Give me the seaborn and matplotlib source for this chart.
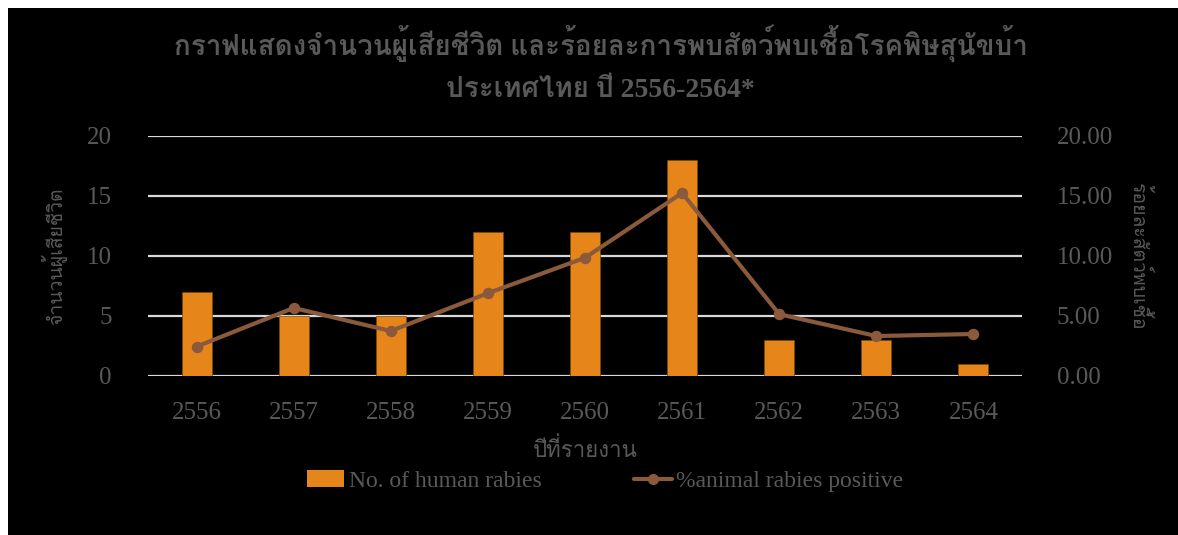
import numpy as np
import pandas as pd
import matplotlib
matplotlib.use("Agg")
import matplotlib.pyplot as plt
import seaborn as sns
from matplotlib import font_manager
from matplotlib.ft2font import FT2Font
from matplotlib.patches import Patch, Rectangle
from matplotlib.lines import Line2D

# ---- data ----
years = ["2556", "2557", "2558", "2559", "2560", "2561", "2562", "2563", "2564"]
human_rabies = [7, 5, 5, 12, 12, 18, 3, 3, 1]
animal_pct = [2.45, 5.67, 3.75, 6.9, 9.85, 15.25, 5.15, 3.33, 3.5]
left_ticks = [0, 5, 10, 15, 20]
right_ticks = [0, 5, 10, 15, 20]

title = "กราฟแสดงจำนวนผู้เสียชีวิต และร้อยละการพบสัตว์พบเชื้อโรคพิษสุนัขบ้า\nประเทศไทย ปี 2556-2564*"
xlabel = "ปีที่รายงาน"
ylabel_left = "จำนวนผู้เสียชีวิต"
ylabel_right = "ร้อยละสัตว์พบเชื้อ"
legend_bar = "No. of human rabies"
legend_line = "%animal rabies positive"

# ---- find a font with Thai glyphs ----
thai_family = None
for f in font_manager.fontManager.ttflist:
    try:
        cm = FT2Font(f.fname).get_charmap()
        if 0x0E01 in cm and 0x0E35 in cm:
            thai_family = f.name
            break
    except Exception:
        pass

sns.set_theme(style="white")
families = ["Liberation Serif"]
if thai_family:
    families.append(thai_family)
families.append("DejaVu Sans")
plt.rcParams["font.family"] = families

text_color = "#595959"
bar_color = "#E6861A"
line_color = "#8B5A3C"
grid_color = "#D9D9D9"

fig = plt.figure(figsize=(11.78, 5.35), dpi=100)
fig.patch.set_facecolor("white")
# black chart area
fig.patches.append(Rectangle((8 / 1178, 0), 1 - 8 / 1178, 1 - 8 / 535,
                             transform=fig.transFigure, facecolor="black",
                             edgecolor="none", zorder=-10))

ax = fig.add_axes([148 / 1178, 1 - 376 / 535, (1022 - 148) / 1178, (376 - 136) / 535])
ax.set_facecolor("black")
ax.patch.set_alpha(0)

df = pd.DataFrame({"year": years, "human": human_rabies, "pct": animal_pct})

sns.barplot(data=df, x="year", y="human", ax=ax, color=bar_color, width=0.31,
            saturation=1, edgecolor="#7A4A10", linewidth=0.5, zorder=3)
ax.set_ylim(0, 20)
ax.set_xlim(-0.5, len(years) - 0.5)
ax.set_yticks(left_ticks)
ax.set_yticklabels([str(t) for t in left_ticks])
ax.grid(axis="y", color=grid_color, linewidth=1.6, zorder=0)
ax.set_axisbelow(True)
for s in ax.spines.values():
    s.set_visible(False)
ax.tick_params(axis="both", length=0, labelsize=18, colors=text_color)
ax.tick_params(axis="x", pad=19)
ax.tick_params(axis="y", pad=26)
ax.set_xlabel(xlabel, color=text_color, fontsize=16, labelpad=10)
ax.set_ylabel(ylabel_left, color=text_color, fontsize=14, labelpad=14)

ax2 = ax.twinx()
sns.pointplot(data=df, x="year", y="pct", ax=ax2, color=line_color,
              markers="o", linestyles="-", markersize=6, linewidth=3)
ax2.set_ylim(0, 20)
ax2.set_xlim(-0.5, len(years) - 0.5)
ax2.set_yticks(right_ticks)
ax2.set_yticklabels([f"{t:.2f}" for t in right_ticks])
for s in ax2.spines.values():
    s.set_visible(False)
ax2.tick_params(axis="y", length=0, labelsize=18, colors=text_color, pad=25)
ax2.set_ylabel(ylabel_right, color=text_color, fontsize=14, rotation=270, labelpad=26)
ax2.grid(False)

fig.text(0.51, 1 - 64 / 535, title, ha="center", va="center", fontsize=20,
         fontweight="bold", color=text_color, linespacing=1.85)

handles = [Patch(facecolor=bar_color, edgecolor="none"),
           Line2D([0], [0], color=line_color, lw=3, marker="o", markersize=7)]
leg = fig.legend(handles, [legend_bar, legend_line], loc="center",
                 bbox_to_anchor=(0.5136, 1 - 481 / 535), ncol=2, frameon=False,
                 fontsize=17, columnspacing=3.9, handlelength=1.6,
                 handletextpad=0.2)
for t in leg.get_texts():
    t.set_color(text_color)

fig.savefig("out.png", dpi=100, facecolor=fig.get_facecolor())
